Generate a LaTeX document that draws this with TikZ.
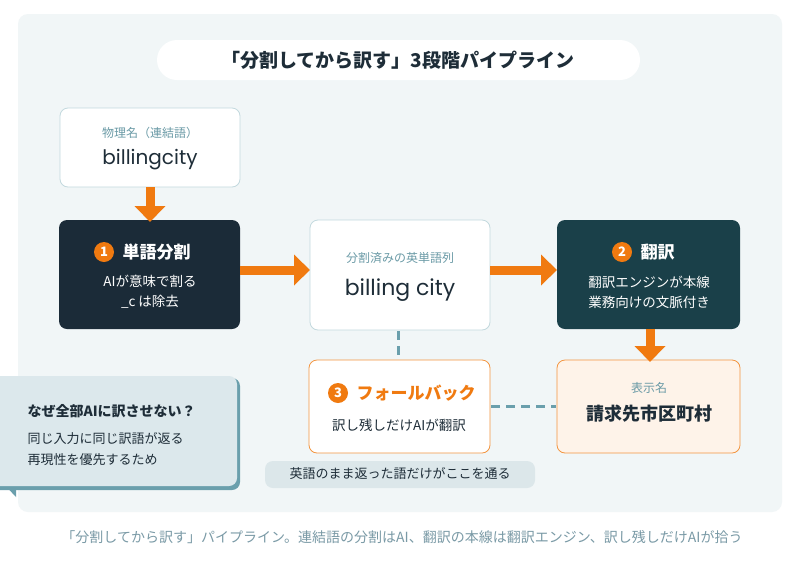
\documentclass[tikz,border=0pt]{standalone}
\usepackage{fontspec}
\setmainfont{Noto Sans CJK JP}
\newfontfamily\pop{Poppins}
\usetikzlibrary{arrows.meta,shadows}
\definecolor{panel}{HTML}{F1F6F7}
\definecolor{dark1}{HTML}{1B2B38}
\definecolor{dark2}{HTML}{1A4049}
\definecolor{org}{HTML}{F07A10}
\definecolor{teal}{HTML}{6A9FAC}
\definecolor{lab}{HTML}{6A9AA6}
\definecolor{txt}{HTML}{1E2D38}
\definecolor{peach}{HTML}{FEF3E9}
\definecolor{note}{HTML}{DCE7EA}
\definecolor{call}{HTML}{DCE8EC}
\definecolor{cap}{HTML}{7A9AA6}
\begin{document}
\begin{tikzpicture}[x=1pt,y=-1pt,
 box/.style={rounded corners=8pt,draw=#1,line width=0.8pt},
 arr/.style={draw=org,line width=9pt,-{Triangle[length=16pt,width=30pt]}},
 dashline/.style={draw=teal,line width=3pt,dash pattern=on 9pt off 6pt},
 num/.style={circle,fill=org,text=white,inner sep=0pt,minimum size=20pt,font=\bfseries\fontsize{13}{13}\selectfont}]
\useasboundingbox (0,0) rectangle (800,568);
\fill[white] (0,0) rectangle (800,568);
\fill[panel,rounded corners=10pt] (18,14) rectangle (782,512);
% title
\fill[white,rounded corners=20pt] (157,40) rectangle (640,80);
\node[font=\bfseries\fontsize{19}{19}\selectfont,text=txt] (title) at (398,60) {「分割してから訳す」3段階パイプライン};
% physical name
\draw[box=teal!40,fill=white] (60,108) rectangle (240,187);
\node[font=\fontsize{12}{12}\selectfont,text=lab] (pl) at (150,133) {物理名（連結語）};
\node[font=\pop\fontsize{20}{20}\selectfont,text=txt] (pn) at (150,160) {billingcity};
% box1
\fill[dark1,rounded corners=8pt] (59,220) rectangle (240,329);
\node[num] (n1) at (104,252) {1};
\node[font=\bfseries\fontsize{17}{17}\selectfont,text=white,anchor=west] (t1) at (119,252) {単語分割};
\node[font=\fontsize{13.5}{20}\selectfont,text=white,align=center] (d1) at (150,292) {AIが意味で割る\\\_c は除去};
% mid
\draw[box=teal!40,fill=white] (310,220) rectangle (490,330);
\node[font=\fontsize{12}{12}\selectfont,text=lab] (ml) at (400,258) {分割済みの英単語列};
\node[font=\pop\fontsize{22}{22}\selectfont,text=txt] (mn) at (400,290) {billing city};
% box2
\fill[dark2,rounded corners=8pt] (557,220) rectangle (740,329);
\node[num] (n2) at (622,252) {2};
\node[font=\bfseries\fontsize{17}{17}\selectfont,text=white,anchor=west] (t2) at (637,252) {翻訳};
\node[font=\fontsize{13.5}{20}\selectfont,text=white,align=center] (d2) at (649,292) {翻訳エンジンが本線\\業務向けの文脈付き};
% display
\draw[box=org!80,fill=peach] (557,360) rectangle (740,453);
\node[font=\fontsize{12}{12}\selectfont,text=lab] (dl) at (649,388) {表示名};
\node[font=\bfseries\fontsize{18}{18}\selectfont,text=txt] (dn) at (649,414) {請求先市区町村};
% fallback
\draw[box=org!80,fill=white] (309,360) rectangle (490,453);
\node[num] (n3) at (338,393) {3};
\node[font=\bfseries\fontsize{17}{17}\selectfont,text=org,anchor=west] (t3) at (353,393) {フォールバック};
\node[font=\fontsize{13.5}{13.5}\selectfont,text=txt] (d3) at (399,425) {訳し残しだけAIが翻訳};
% connectors
\draw[arr] (150,187) -- (150,222);
\draw[arr] (240,270) -- (310,270);
\draw[arr] (490,270) -- (557,270);
\draw[arr] (650,329) -- (650,362);
\draw[dashline] (398,331) -- (398,359);
\draw[dashline] (491,406) -- (556,406);
% note
\fill[note,rounded corners=8pt] (265,461) rectangle (535,488);
\node[font=\fontsize{13}{13}\selectfont,text=txt] (nt) at (400,474) {英語のまま返った語だけがここを通る};
% callout
\fill[teal] (0,480) -- (16,480) -- (16,497) -- cycle;
\fill[teal,rounded corners=8pt] (-10,378) rectangle (240,490);
\fill[call,rounded corners=8pt] (-10,376) rectangle (237,486);
\node[font=\bfseries\fontsize{14}{14}\selectfont,text=txt,anchor=west] (ct) at (24,411) {なぜ全部AIに訳させない？};
\node[font=\fontsize{13}{21}\selectfont,text=txt,anchor=north west,align=left] (cd) at (24,429) {同じ入力に同じ訳語が返る\\再現性を優先するため};
% caption
\node[font=\fontsize{14}{14}\selectfont,text=cap] (cp) at (402,537) {「分割してから訳す」パイプライン。連結語の分割はAI、翻訳の本線は翻訳エンジン、訳し残しだけAIが拾う};
\end{tikzpicture}
\end{document}
